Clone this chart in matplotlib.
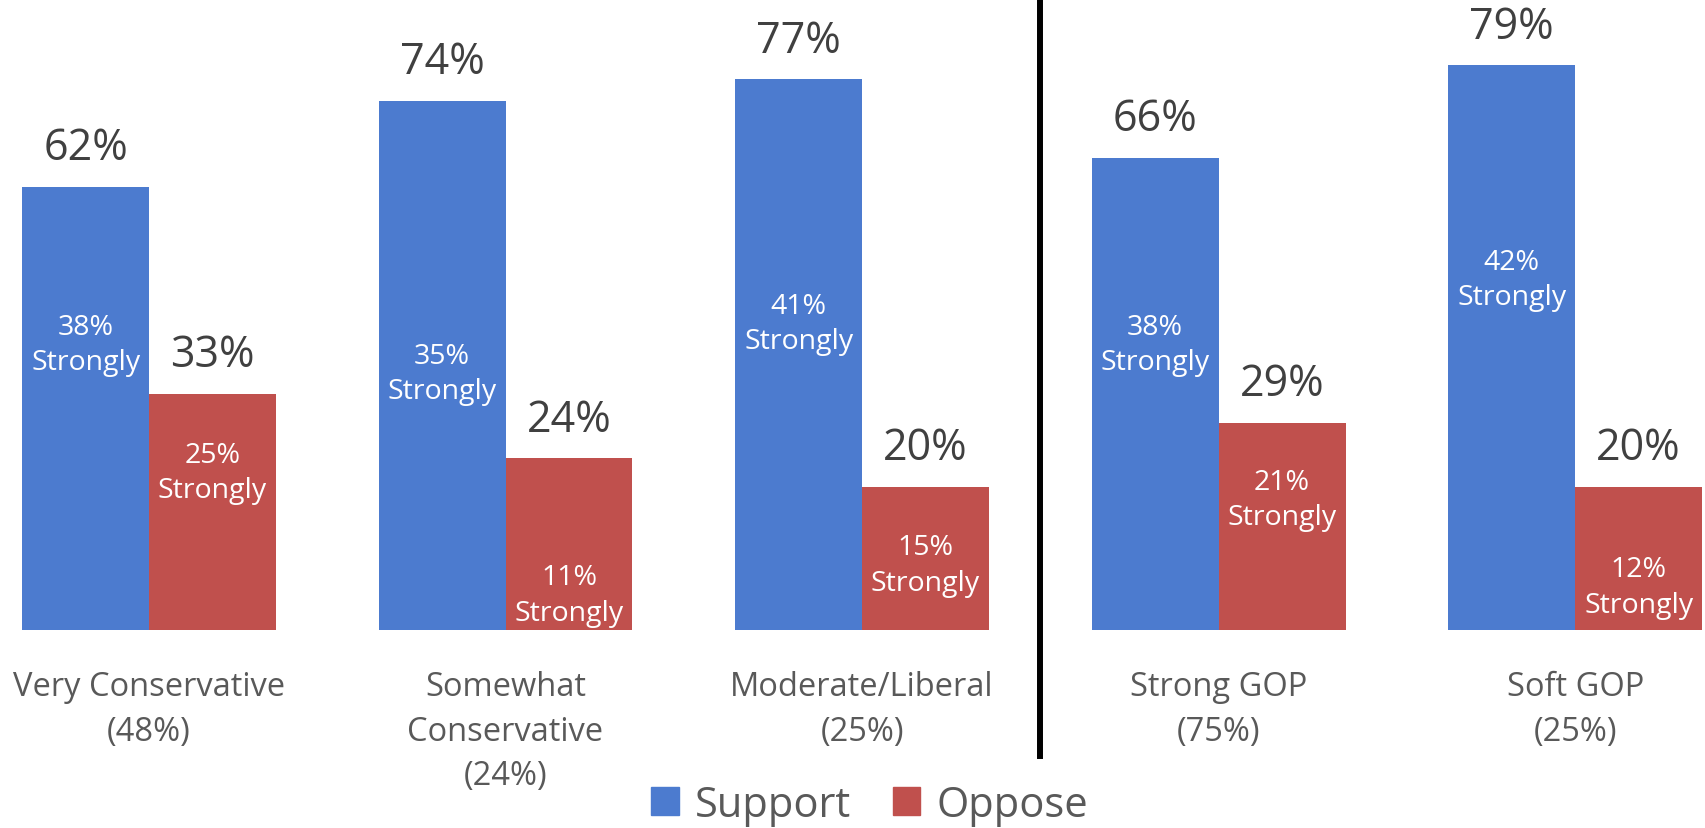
import matplotlib

matplotlib.use("Agg")
import matplotlib.pyplot as plt
from matplotlib.patches import Patch
import numpy as np

plt.rcParams["font.family"] = ["Open Sans", "DejaVu Sans"]

categories = ["Very Conservative\n(48%)", "Somewhat\nConservative\n(24%)",
              "Moderate/Liberal\n(25%)", "Strong GOP\n(75%)", "Soft GOP\n(25%)"]
support = [62, 74, 77, 66, 79]
oppose = [33, 24, 20, 29, 20]
support_strong = [38, 35, 41, 38, 42]
oppose_strong = [25, 11, 15, 21, 12]

# where the "Strongly" labels sit inside the bars (data units, hand placed)
support_lab_y = [39.9, 35.9, 42.9, 39.9, 49.0]
oppose_lab_y = [22.0, 4.9, 9.1, 18.3, 6.0]

BLUE = "#4C7BCF"
RED = "#C0504D"

fig = plt.figure(figsize=(17.06, 8.29), dpi=100)
ax = fig.add_axes([0.0, 0.2388, 1.0, 0.759])

x = np.arange(len(categories))
w = 0.356
ax.bar(x - w / 2, support, width=w, color=BLUE)
ax.bar(x + w / 2, oppose, width=w, color=RED)

for xi, s, o in zip(x, support, oppose):
    for xx, v in ((xi - w / 2, s), (xi + w / 2, o)):
        ax.annotate(f"{v}%", (xx, v), xytext=(0, 28), textcoords="offset points",
                    ha="center", va="center", fontsize=31, color="#404040")

for xi, s, o, sy, oy in zip(x, support_strong, oppose_strong, support_lab_y, oppose_lab_y):
    ax.text(xi - w / 2, sy, f"{s}%\nStrongly", ha="center", va="center",
            fontsize=20.5, color="white", linespacing=1.35)
    ax.text(xi + w / 2, oy, f"{o}%\nStrongly", ha="center", va="center",
            fontsize=20.5, color="white", linespacing=1.35)

for xi, lab in zip(x, categories):
    ax.annotate(lab, (xi, 0), xycoords=("data", "axes fraction"), xytext=(0, -29),
                textcoords="offset points", ha="center", va="top",
                fontsize=23.5, color="#595959", linespacing=1.45)

# divider between ideology and party groups
ax.axvline(2.5, ymin=-0.2, ymax=1.01, color="black", linewidth=4.3, clip_on=False)

ax.set_xlim(-0.418, 4.367)
ax.set_ylim(0, 88)
ax.axis("off")

handles = [Patch(color=BLUE, label="Support"), Patch(color=RED, label="Oppose")]
fig.legend(handles=handles, loc="center", bbox_to_anchor=(870 / 1706, 1 - 806 / 829),
           ncol=2, frameon=False, fontsize=30, handlelength=0.65, handleheight=0.65,
           handletextpad=0.4, columnspacing=1.0, labelcolor="#595959")

fig.savefig("out.png", dpi=100)
